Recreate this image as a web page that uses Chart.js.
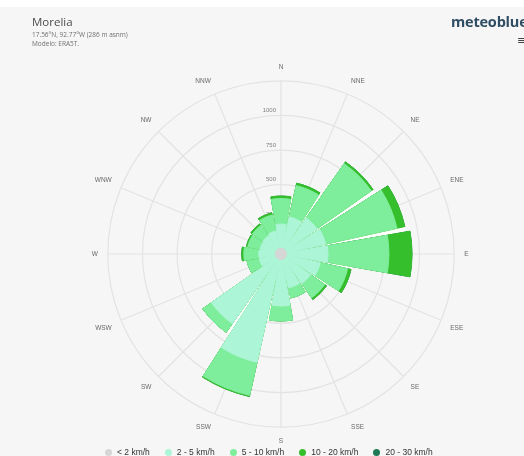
<!DOCTYPE html>
<html>
<head>
<meta charset="utf-8">
<script src="https://cdn.jsdelivr.net/npm/chart.js@4.4.1/dist/chart.umd.min.js"></script>
<style>
  html, body { margin: 0; padding: 0; background: #fff; }
  #app { position: relative; width: 524px; height: 456px; overflow: hidden; font-family: "Liberation Sans", Arial, sans-serif; }
  #panel { position: absolute; left: 0; top: 7px; width: 524px; height: 449px; background: #f6f6f6; }
  #rose { position: absolute; left: 0; top: 0; }
  .title { position: absolute; left: 32px; top: 14px; font: 11.5px "Open Sans", sans-serif; color: #4d4d4d; }
  .sub { position: absolute; left: 32px; font: 6.5px "Open Sans", sans-serif; color: #707070; white-space: nowrap; }
  .logo { position: absolute; left: 451px; top: 12px; font: 700 14.5px "Open Sans", sans-serif; color: #2f4d63; letter-spacing: -0.2px; }
  .menu { position: absolute; left: 517px; top: 34px; font: 11px "DejaVu Sans", sans-serif; color: #444; }
  #legend { position: absolute; left: 105px; top: 446px; height: 12px; display: flex; align-items: center; gap: 15px; font-size: 8.5px; color: #333; white-space: nowrap; }
  #legend span.dot { display: inline-block; width: 7px; height: 7px; border-radius: 50%; margin-right: 5px; vertical-align: middle; }
</style>
</head>
<body>
<div id="app">
  <div id="panel"></div>
  <canvas id="rose" width="524" height="456"></canvas>
  <div class="title">Morelia</div>
  <div class="sub" style="top:30px">17.56°N, 92.77°W (286 m asnm)</div>
  <div class="sub" style="top:39px">Modelo: ERA5T.</div>
  <div class="logo">meteoblue</div>
  <div class="menu">≡</div>
  <div id="legend"></div>
</div>
<script>
// wind directions, clockwise from north
const directions = ['N', 'NNE', 'NE', 'ENE', 'E', 'ESE', 'SE', 'SSE', 'S', 'SSW', 'SW', 'WSW', 'W', 'WNW', 'NW', 'NNW'];
const speedClasses = ['< 2 km/h', '2 - 5 km/h', '5 - 10 km/h', '10 - 20 km/h', '20 - 30 km/h'];

// hours per direction for each speed class
const below2 = [40, 40, 40, 40, 40, 40, 40, 40, 40, 40, 40, 40, 40, 40, 40, 40];
const from2to5 = [176, 234, 277, 290, 299, 250, 220, 210, 335, 760, 573, 120, 120, 115, 120, 130];
const from5to10 = [184, 231, 478, 527, 440, 202, 125, 75, 108, 245, 76, 90, 108, 90, 92, 118];
const from10to20 = [18, 18, 16, 58, 166, 25, 15, 0, 0, 8, 0, 0, 15, 10, 13, 15];
const from20to30 = [0, 0, 0, 0, 0, 0, 0, 0, 0, 0, 0, 0, 0, 0, 0, 0];

const radialTicks = [0, 250, 500, 750, 1000];

const classColors = ['#d6d6d6', '#acf5d6', '#7fee9c', '#36bf2c', '#1d7a55'];

// each direction gets a wedge followed by a thin white gap; north is split in
// two halves so its wedge sits centred on the N axis
const sectorAngle = 20;
const gapAngle = 2.5;
const sliceAngles = [sectorAngle / 2];
for (let i = 1; i < directions.length; i++) sliceAngles.push(gapAngle, sectorAngle);
sliceAngles.push(gapAngle, sectorAngle / 2);

const isGap = i => i % 2 === 1;

// gaps are empty, except in the bottom layer where they run white up to the
// shorter of the two neighbouring wedges
function spread(values, fillGaps) {
  const n = values.length;
  const gap = i => (fillGaps ? Math.min(values[i], values[(i + 1) % n]) : 0);
  const out = [values[0]];
  for (let i = 1; i < n; i++) out.push(gap(i - 1), values[i]);
  out.push(gap(n - 1), values[0]);
  return out;
}

// stacked totals: smallest class on top, the full stack drawn underneath
const series = [below2, from2to5, from5to10, from10to20, from20to30];
let running = directions.map(() => 0);
const datasets = series.map((vals, k) => {
  running = running.map((v, i) => v + vals[i]);
  const bottom = k === series.length - 1;
  return {
    label: speedClasses[k],
    data: spread(running, bottom),
    backgroundColor: ctx => (isGap(ctx.dataIndex) ? '#ffffff' : classColors[k]),
    borderColor: classColors[k],
    borderWidth: ctx => (isGap(ctx.dataIndex) ? 0 : 1),
    angle: ctx => sliceAngles[ctx.dataIndex]
  };
});

const tickLabels = {
  id: 'tickLabels',
  beforeDatasetsDraw(chart) {
    const r = chart.scales.r;
    const ctx = chart.ctx;
    ctx.save();
    ctx.font = '6px "Liberation Sans", Arial, sans-serif';
    ctx.fillStyle = '#808080';
    ctx.textAlign = 'right';
    ctx.textBaseline = 'middle';
    radialTicks.forEach(v => {
      const p = r.getPointPositionForValue(0, v);
      ctx.fillText(String(v), p.x - 5, p.y - 5);
    });
    ctx.restore();
  }
};

new Chart(document.getElementById('rose'), {
  type: 'polarArea',
  data: { labels: directions, datasets },
  options: {
    responsive: false,
    animation: false,
    events: [],
    layout: { padding: { top: 64, bottom: 10, left: 38, right: 0 } },
    plugins: { legend: { display: false }, tooltip: { enabled: false } },
    scales: {
      r: {
        min: 0,
        max: 1250,
        startAngle: 0,
        ticks: { display: false, stepSize: 250 },
        grid: { circular: true, color: '#e3e3e3', lineWidth: 1.2 },
        angleLines: { display: true, color: '#e3e3e3', lineWidth: 1.2 },
        pointLabels: {
          display: true,
          padding: 10,
          color: '#6a6a6a',
          font: { size: 6.5, family: '"Liberation Sans", Arial, sans-serif' }
        }
      }
    }
  },
  plugins: [tickLabels]
});

// legend
const legend = document.getElementById('legend');
speedClasses.forEach((name, k) => {
  const item = document.createElement('div');
  item.innerHTML = '<span class="dot" style="background:' + classColors[k] + '"></span>' + name;
  legend.appendChild(item);
});
</script>
</body>
</html>
